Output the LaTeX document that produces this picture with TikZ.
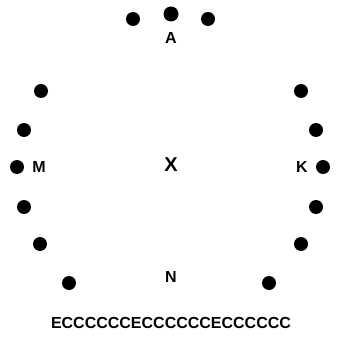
\documentclass[tikz,border=0pt]{standalone}
\usepackage{fontspec}
\setmainfont{Liberation Sans}
\begin{document}
\begin{tikzpicture}[x=1pt,y=-1pt,
  dot/.style={circle,fill=black,inner sep=0pt,minimum size=14pt},
  lbl/.style={inner sep=0pt,font=\bfseries\fontsize{16}{16}\selectfont}]
\useasboundingbox (0,0) rectangle (339,339);
\node[dot] (t1) at (133,19) {};
\node[dot,minimum size=15pt] (t2) at (171,14) {};
\node[dot] (t3) at (208,19) {};
\node[lbl] (A) at (171,38) {A};
\node[dot] (l1) at (41,91) {};
\node[dot] (l2) at (24,130) {};
\node[dot] (l3) at (17,167) {};
\node[lbl] (M) at (39,167) {M};
\node[dot] (l4) at (24,207) {};
\node[dot] (l5) at (40,244) {};
\node[dot] (l6) at (69,283) {};
\node[dot] (r1) at (301,91) {};
\node[dot] (r2) at (316,130) {};
\node[dot] (r3) at (323,167) {};
\node[lbl] (K) at (302,167) {K};
\node[dot] (r4) at (316,207) {};
\node[dot] (r5) at (301,244) {};
\node[dot] (r6) at (269,283) {};
\node[lbl,font=\bfseries\fontsize{20}{20}\selectfont] (X) at (171,165) {X};
\node[lbl] (N) at (171,277) {N};
\node[lbl,font=\bfseries\fontsize{16}{16}\selectfont] (E) at (171,323) {ECCCCCCECCCCCCECCCCCC};
\end{tikzpicture}
\end{document}
